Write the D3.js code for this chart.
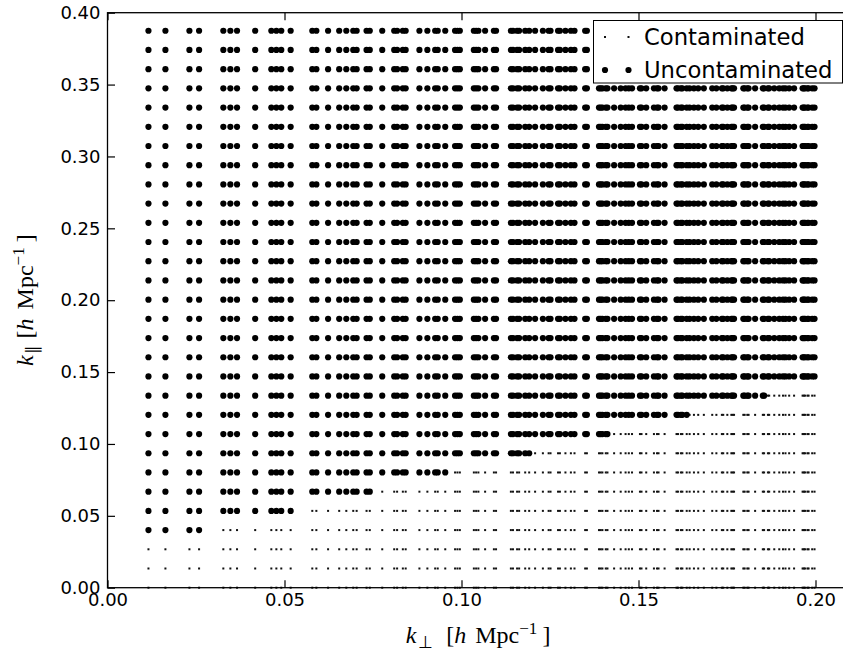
<!DOCTYPE html>
<html>
<head>
<meta charset="utf-8">
<script src="https://cdn.jsdelivr.net/npm/d3@7"></script>
<style>
  html, body { margin: 0; padding: 0; background: #fff; }
  svg { display: block; }
</style>
</head>
<body>
<svg id="chart" width="843" height="655"></svg>
<script>
// k_perp columns (h/Mpc)
const kPerp = [
  0.01157, 0.01636, 0.02314, 0.02587,
  0.03272, 0.03471, 0.03659, 0.04172, 0.04628, 0.04770, 0.04909, 0.05174,
  0.05785, 0.05900, 0.06231, 0.06545, 0.06746, 0.06942, 0.07038, 0.07318, 0.07409,
  0.07761, 0.08099, 0.08181, 0.08343, 0.08423, 0.08811, 0.09036, 0.09256, 0.09328, 0.09541,
  0.09818, 0.09885, 0.09953, 0.10349, 0.10413, 0.10477, 0.10667, 0.10915, 0.10976, 0.11395, 0.11454, 0.11570, 0.11628, 0.11799, 0.11912,
  0.12079, 0.12299, 0.12461, 0.12515, 0.12727, 0.12780, 0.12936, 0.13090, 0.13192, 0.13493, 0.13542, 0.13884, 0.13932, 0.13980, 0.14076, 0.14123,
  0.14311, 0.14497, 0.14635, 0.14726, 0.14817, 0.15041, 0.15085, 0.15218, 0.15436, 0.15523, 0.15566, 0.15737, 0.16074, 0.16115, 0.16198, 0.16239, 0.16362,
  0.16444, 0.16566, 0.16687, 0.16846, 0.17083, 0.17200, 0.17355, 0.17394, 0.17509, 0.17623, 0.17661, 0.17699, 0.17961, 0.17999, 0.18073, 0.18110, 0.18294,
  0.18512, 0.18548, 0.18656, 0.18692, 0.18835, 0.18976, 0.19082, 0.19152, 0.19256, 0.19395, 0.19635, 0.19669, 0.19703, 0.19771, 0.19805, 0.19906, 0.19973
];
// index of the lowest uncontaminated k_par row for each column
const firstClean = [
  3, 3, 3, 3,
  4, 4, 4, 4, 4, 4, 4, 4,
  5, 5, 5, 5, 5, 5, 5, 5, 5,
  6, 6, 6, 6, 6, 6, 6, 6, 6, 6,
  7, 7, 7, 7, 7, 7, 7, 7, 7, 7, 7, 7, 7, 7, 7,
  8, 8, 8, 8, 8, 8, 8, 8, 8, 8, 8, 8, 8, 8, 8, 8,
  9, 9, 9, 9, 9, 9, 9, 9, 9, 9, 9, 9, 9, 9, 9, 9, 9,
  10, 10, 10, 10, 10, 10, 10, 10, 10, 10, 10, 10, 10, 10, 10, 10, 10,
  10, 10, 11, 11, 11, 11, 11, 11, 11, 11, 11, 11, 11, 11, 11, 11, 11
];
// k_par rows (h/Mpc)
const kPar = [
  0.00000, 0.01336, 0.02672, 0.04008, 0.05344, 0.06680, 0.08016, 0.09352, 0.10688, 0.12024,
  0.13360, 0.14696, 0.16032, 0.17368, 0.18704, 0.20040, 0.21376, 0.22712, 0.24048, 0.25384,
  0.26720, 0.28056, 0.29392, 0.30728, 0.32064, 0.33400, 0.34736, 0.36072, 0.37408, 0.38744
];
const xTicks = [0.00, 0.05, 0.10, 0.15, 0.20];
const yTicks = [0.00, 0.05, 0.10, 0.15, 0.20, 0.25, 0.30, 0.35, 0.40];
const legendLabels = ["Contaminated", "Uncontaminated"];

const svg = d3.select("#chart");
const L = 107.5, T = 12.7, B = 587.7;
const x = d3.scaleLinear().domain([0, 0.21]).range([L, L + 0.21 * 3540]);
const y = d3.scaleLinear().domain([0, 0.40]).range([B, T]);
const R = x(0.21);

svg.append("rect").attr("width", 843).attr("height", 655).attr("fill", "#fff");

const pts = [];
kPerp.forEach((kp, c) => {
  kPar.forEach((kq, r) => {
    pts.push({kp, kq, clean: r >= firstClean[c]});
  });
});

const plot = svg.append("g");
plot.selectAll("rect.cont").data(pts.filter(d => !d.clean)).join("rect")
  .attr("class", "cont")
  .attr("x", d => x(d.kp) - 1).attr("y", d => y(d.kq) - 1)
  .attr("width", 2).attr("height", 2).attr("fill", "#111");
plot.selectAll("circle.clean").data(pts.filter(d => d.clean)).join("circle")
  .attr("class", "clean")
  .attr("cx", d => x(d.kp)).attr("cy", d => y(d.kq))
  .attr("r", 3.1).attr("fill", "#000");

const fmt = d3.format(".2f");
const tickFont = "DejaVu Sans, sans-serif";

const gx = svg.append("g").attr("transform", `translate(0,${B})`)
  .call(d3.axisBottom(x).tickValues(xTicks).tickFormat(fmt).tickSize(-7.5).tickSizeOuter(0).tickPadding(5.5));
const gxt = svg.append("g").attr("transform", `translate(0,${T})`)
  .call(d3.axisTop(x).tickValues(xTicks).tickFormat("").tickSize(-7.5).tickSizeOuter(0));
const gy = svg.append("g").attr("transform", `translate(${L},0)`)
  .call(d3.axisLeft(y).tickValues(yTicks).tickFormat(fmt).tickSize(-7.5).tickSizeOuter(0).tickPadding(7));
const gyr = svg.append("g").attr("transform", `translate(${R},0)`)
  .call(d3.axisRight(y).tickValues(yTicks).tickFormat("").tickSize(-7.5).tickSizeOuter(0));
[gx, gxt, gy, gyr].forEach(g => {
  g.select(".domain").remove();
  g.selectAll(".tick line").attr("stroke", "#000").attr("stroke-width", 1.2);
  g.selectAll(".tick text").attr("font-family", tickFont).attr("font-size", 18).attr("fill", "#000");
});

svg.append("rect").attr("x", L).attr("y", T).attr("width", R - L).attr("height", B - T)
  .attr("fill", "none").attr("stroke", "#000").attr("stroke-width", 1.3);

// Legend
const lg = svg.append("g");
lg.append("rect").attr("x", 593.5).attr("y", 20.5).attr("width", 249).attr("height", 62.5)
  .attr("fill", "#fff").attr("stroke", "#000").attr("stroke-width", 1);
const legendY = [37, 70];
legendLabels.forEach((lab, i) => {
  [605, 628.5].forEach(mx => {
    if (i === 0) lg.append("rect").attr("x", mx - 1).attr("y", legendY[i] - 1).attr("width", 2).attr("height", 2).attr("fill", "#111");
    else lg.append("circle").attr("cx", mx).attr("cy", legendY[i]).attr("r", 3.1).attr("fill", "#000");
  });
  lg.append("text").attr("x", 644).attr("y", legendY[i] + 8)
    .attr("font-family", tickFont).attr("font-size", 22.7).attr("fill", "#000").text(lab);
});

// Axis labels
const serif = "Liberation Serif, Times New Roman, serif";
const xl = svg.append("text").attr("x", 478).attr("y", 643)
  .attr("text-anchor", "middle").attr("font-family", serif).attr("font-size", 24).attr("fill", "#000");
xl.append("tspan").attr("font-style", "italic").text("k");
xl.append("tspan").attr("dy", 5).attr("dx", 2).attr("font-size", 17).text("⊥");
xl.append("tspan").attr("dy", -5).attr("dx", 13).text("[");
xl.append("tspan").attr("font-style", "italic").text("h");
xl.append("tspan").attr("dx", 9).text("Mpc");
xl.append("tspan").attr("dy", -9).attr("font-size", 17).text("−1");
xl.append("tspan").attr("dy", 9).attr("dx", 5).text("]");

const yl = svg.append("text").attr("transform", `translate(33,${(T + B) / 2}) rotate(-90)`)
  .attr("text-anchor", "middle").attr("font-family", serif).attr("font-size", 24).attr("fill", "#000");
yl.append("tspan").attr("font-style", "italic").text("k");
yl.append("tspan").attr("dy", 5).attr("dx", 1).attr("font-size", 17).text("∥");
yl.append("tspan").attr("dy", -5).attr("dx", 7).text("[");
yl.append("tspan").attr("font-style", "italic").text("h");
yl.append("tspan").attr("dx", 9).text("Mpc");
yl.append("tspan").attr("dy", -9).attr("font-size", 17).text("−1");
yl.append("tspan").attr("dy", 9).attr("dx", 5).text("]");
</script>
</body>
</html>
